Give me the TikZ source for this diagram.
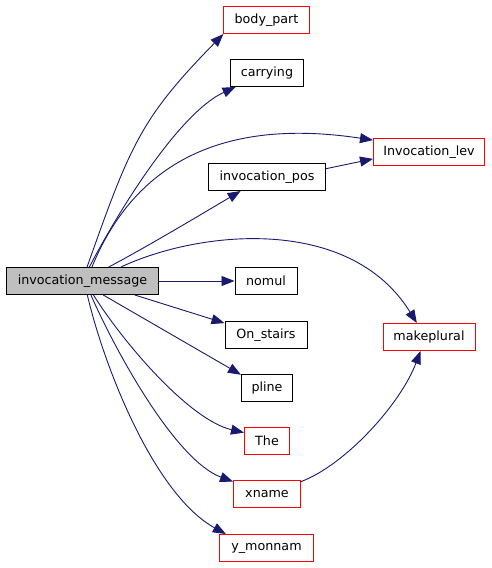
\documentclass[tikz,border=0pt]{standalone}
\usepackage{fontspec}
\setmainfont{DejaVu Sans}
\usetikzlibrary{arrows.meta,calc}
\definecolor{edgeblue}{HTML}{191970}
\definecolor{boxred}{HTML}{FF0000}
\definecolor{boxgray}{HTML}{BFBFBF}
\begin{document}
\begin{tikzpicture}[x=1pt,y=-1pt,
  fn/.style={draw=black,fill=white,line width=1pt,minimum height=27pt,inner sep=0pt,font=\fontsize{12.7}{14}\selectfont},
  fnred/.style={fn,draw=boxred},
  fncur/.style={fn,fill=boxgray},
  call/.style={draw=edgeblue,line width=0.9pt,-{Triangle[length=13pt,width=10pt]}}]
\useasboundingbox (0,0) rectangle (491,568);
\node[fncur,minimum width=152pt] (im) at (82.5,281) {invocation\_message};
\node[fnred,minimum width=86pt] (bp) at (266.5,20) {body\_part};
\node[fn,minimum width=73pt] (car) at (267,73) {carrying};
\node[fn,minimum width=117pt] (pos) at (267,177) {invocation\_pos};
\node[fnred,minimum width=111pt] (lev) at (429,152) {Invocation\_lev};
\node[fnred,minimum width=92pt] (mp) at (429,337) {makeplural};
\node[fn,minimum width=62pt] (nomul) at (266,281) {nomul};
\node[fn,minimum width=82pt] (stairs) at (266,335) {On\_stairs};
\node[fn,minimum width=51pt] (pline) at (267,388) {pline};
\node[fnred,minimum width=45pt] (the) at (267,441) {The};
\node[fnred,minimum width=67pt] (xn) at (267,494) {xname};
\node[fnred,minimum width=94pt] (ym) at (266.5,548) {y\_monnam};
\draw[call] (im.72) .. controls (130,146) and (140,119) .. (bp.198.6);
\draw[call] (im.64) .. controls (130,190) and (185,110) .. (car.204);
\draw[call] (im.56) .. controls (140,150) and (240,120) .. (lev.168);
\draw[call] (im.28.5) .. controls (150,245) and (200,215) .. (pos.208);
\draw[call] (pos.8.6) -- (lev.187);
\draw[call] (im.20.5) .. controls (200,230) and (350,215) .. (mp.131);
\draw[call] (im.east) -- (nomul.west);
\draw[call] (im.-15.9) -- (stairs.164);
\draw[call] (im.-34.7) -- (pline.153);
\draw[call] (im.-52.4) .. controls (125,345) and (190,420) .. (the.160);
\draw[call] (im.-59.6) .. controls (115,350) and (175,460) .. (xn.160);
\draw[call] (im.-71.5) .. controls (105,370) and (155,495) .. (ym.161.6);
\draw[call] (xn.20) .. controls (345,465) and (400,405) .. (mp.239);
\end{tikzpicture}
\end{document}
